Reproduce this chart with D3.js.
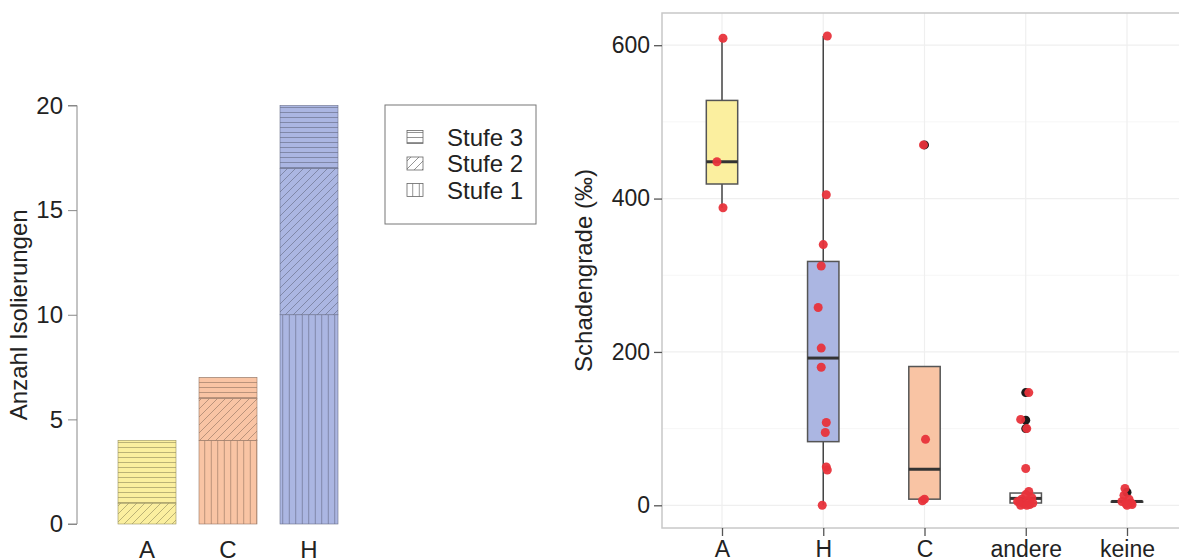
<!DOCTYPE html>
<html>
<head>
<meta charset="utf-8">
<script src="https://cdn.jsdelivr.net/npm/d3@7"></script>
<style>
  body { margin: 0; background: #fff; }
  svg { font-family: "Liberation Sans", Arial, sans-serif; }
</style>
</head>
<body>
<svg id="chart" width="1179" height="560"></svg>
<script>
// ---- left panel: stacked bars (counts per Stufe) ----
const barCats = ['A', 'C', 'H'];
const stufe1 = [0, 4, 10];
const stufe2 = [1, 2, 7];
const stufe3 = [3, 1, 3];
const barTicks = [0, 5, 10, 15, 20];
const legendLabels = ['Stufe 3', 'Stufe 2', 'Stufe 1'];

// ---- right panel: boxplots of Schadengrade ----
const boxCats = ['A', 'H', 'C', 'andere', 'keine'];
const whiskLow = [388, 0, 7, 0, 4];
const q1 = [419, 83, 8, 3, 4];
const median = [448, 192, 47, 9, 5];
const q3 = [528, 318, 181, 16, 5];
const whiskHigh = [609, 612, 181, 16, 5];
const boxTicks = [0, 200, 400, 600];
// outliers (black) per category
const outliers = [
  ['C', 470], ['andere', 147], ['andere', 111], ['andere', 100], ['keine', 17]
];
// jittered observations: [category, value, jitter in category units]
const points = [
  ['A', 609, 0.01], ['A', 448, -0.05], ['A', 388, 0.01],
  ['H', 612, 0.04], ['H', 405, 0.03], ['H', 340, 0.0], ['H', 312, -0.02],
  ['H', 258, -0.05], ['H', 205, -0.02], ['H', 180, -0.02], ['H', 108, 0.03],
  ['H', 95, 0.02], ['H', 50, 0.03], ['H', 46, 0.04], ['H', 0, -0.01],
  ['C', 470, -0.01], ['C', 86, 0.01], ['C', 8, 0.0], ['C', 6, -0.02],
  ['andere', 147, 0.03], ['andere', 112, -0.05], ['andere', 100, 0.01],
  ['andere', 48, 0.0], ['andere', 18, 0.03], ['andere', 14, 0.0],
  ['andere', 10, 0.06], ['andere', 8, -0.04], ['andere', 6, 0.02],
  ['andere', 4, -0.06], ['andere', 3, 0.07], ['andere', 2, -0.02],
  ['andere', 1, 0.04], ['andere', 0, -0.05], ['andere', 0, 0.01], ['andere', 5, -0.08],
  ['keine', 22, -0.02], ['keine', 13, -0.03], ['keine', 8, 0.02], ['keine', 5, -0.05],
  ['keine', 3, 0.04], ['keine', 2, -0.01], ['keine', 1, 0.05], ['keine', 0, 0.0]
];

const fills = { A: '#fbef9f', C: '#f9c4a4', H: '#abb6e2', andere: '#ffffff', keine: '#ffffff' };

const svg = d3.select('#chart');
const defs = svg.append('defs');

// hatch patterns: Stufe 1 vertical, Stufe 2 diagonal, Stufe 3 horizontal
function makePattern(id, kind, bg, line) {
  const size = kind === 'h' ? 5 : (kind === 'v' ? 6.5 : 8);
  const p = defs.append('pattern')
    .attr('id', id)
    .attr('patternUnits', 'userSpaceOnUse')
    .attr('width', size).attr('height', size);
  p.append('rect').attr('width', size).attr('height', size).attr('fill', bg);
  const l = p.append('path').attr('stroke', line).attr('stroke-width', 0.7).attr('fill', 'none');
  if (kind === 'h') l.attr('d', `M0,${size / 2}H${size}`);
  else if (kind === 'v') l.attr('d', `M${size / 2},0V${size}`);
  else l.attr('d', `M0,${size}L${size},0 M-1,1L1,-1 M${size - 1},${size + 1}L${size + 1},${size - 1}`);
}
const kinds = ['v', 'd', 'h'];
barCats.forEach(c => {
  const line = d3.color(fills[c]).darker(1.7).copy({opacity: 0.8});
  kinds.forEach(k => makePattern(`pat-${c}-${k}`, k, fills[c], line));
});
kinds.forEach(k => makePattern(`pat-leg-${k}`, k, '#fff', '#666'));

// ================= left chart =================
const L = { left: 77, top: 105.5, bottom: 524 };
const xb = d3.scaleBand().domain(barCats).range([118, 338]).paddingInner(0.284).paddingOuter(0);
const yb = d3.scaleLinear().domain([0, 20]).range([L.bottom, L.top]);

const stackData = barCats.map((c, i) => ({ cat: c, s1: stufe1[i], s2: stufe2[i], s3: stufe3[i] }));
const stack = d3.stack().keys(['s1', 's2', 's3'])(stackData);

const gb = svg.append('g');
stack.forEach((layer, li) => {
  gb.selectAll(null)
    .data(layer.filter(d => d[1] > d[0]))
    .enter().append('rect')
    .attr('x', d => xb(d.data.cat))
    .attr('width', xb.bandwidth())
    .attr('y', d => yb(d[1]))
    .attr('height', d => yb(d[0]) - yb(d[1]))
    .attr('fill', d => `url(#pat-${d.data.cat}-${kinds[li]})`)
    .attr('stroke', d => d3.color(fills[d.data.cat]).darker(1.4))
    .attr('stroke-width', 0.6);
});

const yAxisL = gb.append('g')
  .attr('transform', `translate(${L.left},0)`)
  .call(d3.axisLeft(yb).tickValues(barTicks).tickSize(9).tickPadding(5));
yAxisL.select('.domain').attr('stroke', '#888').attr('d', `M-9,${yb(0)}H0V${yb(20)}H-9`);
yAxisL.selectAll('.tick line').attr('stroke', '#888');
yAxisL.selectAll('.tick text').attr('fill', '#222').style('font-size', '24px');

gb.selectAll('text.xl')
  .data(barCats)
  .enter().append('text')
  .attr('x', d => xb(d) + xb.bandwidth() / 2)
  .attr('y', 558)
  .attr('text-anchor', 'middle')
  .attr('fill', '#222')
  .style('font-size', '24px')
  .text(d => d);

gb.append('text')
  .attr('transform', `translate(27,${(L.top + L.bottom) / 2}) rotate(-90)`)
  .attr('text-anchor', 'middle')
  .attr('fill', '#222')
  .style('font-size', '24px')
  .text('Anzahl Isolierungen');

// legend
const lg = svg.append('g');
lg.append('rect').attr('x', 385).attr('y', 105).attr('width', 151).attr('height', 119)
  .attr('fill', '#fff').attr('stroke', '#777').attr('stroke-width', 1);
legendLabels.forEach((t, i) => {
  const k = ['h', 'd', 'v'][i];
  const yy = 137 + i * 26.5;
  lg.append('rect').attr('x', 407).attr('y', yy - 6.5).attr('width', 16).attr('height', 13)
    .attr('fill', `url(#pat-leg-${k})`).attr('stroke', '#666').attr('stroke-width', 0.8);
  lg.append('text').attr('x', 447).attr('y', yy + 8.5).attr('fill', '#222')
    .style('font-size', '24px').text(t);
});

// ================= right chart =================
const R = { left: 662, right: 1188, top: 13, bottom: 528 };
const xr = d3.scalePoint().domain(boxCats).range([722, 1127]);
const yr = d3.scaleLinear().domain([-29.6, 642]).range([R.bottom, R.top]);
const step = xr.step();
const boxW = 0.31 * step;

const gr = svg.append('g');
// grid
const minor = [100, 300, 500];
gr.selectAll('line.minor').data(minor).enter().append('line')
  .attr('x1', R.left).attr('x2', R.right).attr('y1', d => yr(d)).attr('y2', d => yr(d))
  .attr('stroke', '#f6f6f6').attr('stroke-width', 1);
gr.selectAll('line.major').data(boxTicks).enter().append('line')
  .attr('x1', R.left).attr('x2', R.right).attr('y1', d => yr(d)).attr('y2', d => yr(d))
  .attr('stroke', '#efefef').attr('stroke-width', 1.2);
gr.selectAll('line.vgrid').data(boxCats).enter().append('line')
  .attr('x1', d => xr(d)).attr('x2', d => xr(d)).attr('y1', R.top).attr('y2', R.bottom)
  .attr('stroke', '#efefef').attr('stroke-width', 1.2);

// panel border
gr.append('rect').attr('x', R.left).attr('y', R.top)
  .attr('width', R.right - R.left).attr('height', R.bottom - R.top)
  .attr('fill', 'none').attr('stroke', '#c8c8c8').attr('stroke-width', 1.5);

// boxes
const boxData = boxCats.map((c, i) => ({ cat: c, lo: whiskLow[i], q1: q1[i], med: median[i], q3: q3[i], hi: whiskHigh[i] }));
const bx = gr.selectAll('g.box').data(boxData).enter().append('g')
  .attr('transform', d => `translate(${xr(d.cat)},0)`);
bx.append('line').attr('y1', d => yr(d.q3)).attr('y2', d => yr(d.hi))
  .attr('stroke', '#444').attr('stroke-width', 1.5);
bx.append('line').attr('y1', d => yr(d.q1)).attr('y2', d => yr(d.lo))
  .attr('stroke', '#444').attr('stroke-width', 1.5);
bx.append('rect').attr('x', -boxW / 2).attr('width', boxW)
  .attr('y', d => yr(d.q3)).attr('height', d => yr(d.q1) - yr(d.q3))
  .attr('fill', d => fills[d.cat]).attr('stroke', '#555').attr('stroke-width', 1.5);
bx.append('line').attr('x1', -boxW / 2).attr('x2', boxW / 2)
  .attr('y1', d => yr(d.med)).attr('y2', d => yr(d.med))
  .attr('stroke', '#333').attr('stroke-width', 3);

// outliers
gr.selectAll('circle.out').data(outliers).enter().append('circle')
  .attr('cx', d => xr(d[0])).attr('cy', d => yr(d[1])).attr('r', 4.5).attr('fill', '#1a1a1a');

// jittered points
gr.selectAll('circle.pt').data(points).enter().append('circle')
  .attr('cx', d => xr(d[0]) + d[2] * step).attr('cy', d => yr(d[1]))
  .attr('r', 4.5).attr('fill', '#e8333b').attr('fill-opacity', 0.95);

// axes
const yAxisR = gr.append('g').attr('transform', `translate(${R.left},0)`)
  .call(d3.axisLeft(yr).tickValues(boxTicks).tickSize(8).tickPadding(4));
yAxisR.select('.domain').remove();
yAxisR.selectAll('.tick line').attr('stroke', '#555').attr('stroke-width', 1.3);
yAxisR.selectAll('.tick text').attr('fill', '#222').style('font-size', '23px');

const xAxisR = gr.append('g').attr('transform', `translate(0,${R.bottom})`)
  .call(d3.axisBottom(xr).tickSize(8).tickPadding(5));
xAxisR.select('.domain').remove();
xAxisR.selectAll('.tick line').attr('stroke', '#555').attr('stroke-width', 1.3);
xAxisR.selectAll('.tick text').attr('fill', '#222').style('font-size', '23px');

gr.append('text')
  .attr('transform', `translate(592,${(R.top + R.bottom) / 2}) rotate(-90)`)
  .attr('text-anchor', 'middle')
  .attr('fill', '#222')
  .style('font-size', '24px')
  .text('Schadengrade (‰)');
</script>
</body>
</html>
